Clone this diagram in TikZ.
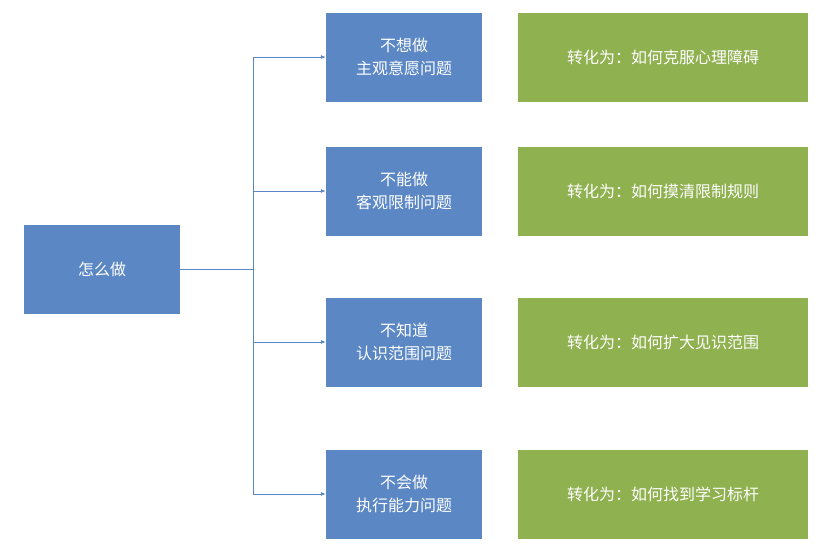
\documentclass[tikz,border=0pt]{standalone}
\usepackage{fontspec}
\setmainfont{Noto Sans CJK SC}
\usetikzlibrary{arrows.meta}
\definecolor{boxblue}{HTML}{5B87C5}
\definecolor{boxgreen}{HTML}{8FB150}
\definecolor{lineblue}{HTML}{5B87C5}
\tikzset{
    bluebox/.style={draw=none,fill=boxblue,text=white,minimum width=156pt,minimum height=89pt,
        align=center,inner sep=0pt,font=\fontsize{16}{23}\selectfont},
    greenbox/.style={draw=none,fill=boxgreen,text=white,minimum width=290pt,minimum height=89pt,
        align=center,inner sep=0pt,font=\fontsize{16}{23}\selectfont},
    link/.style={draw=lineblue,line width=0.8pt,-{Latex[length=5pt,width=4pt]}}
}
\begin{document}
\begin{tikzpicture}[x=1pt,y=-1pt]
    \useasboundingbox (0,0) rectangle (839,549);
    \node[bluebox] (How) at (102,269) {怎么做};
    \coordinate (Split) at (253,269);
    \foreach \y/\top/\bot/\goal [count=\n] in {
        57/不想做/主观意愿问题/如何克服心理障碍,
        191/不能做/客观限制问题/如何摸清限制规则,
        342/不知道/认识范围问题/如何扩大见识范围,
        494/不会做/执行能力问题/如何找到学习标杆}{%
        \node[bluebox] (Q\n) at (404,\y) {\top\\\bot};
        \node[greenbox] (G\n) at (663,\y) {转化为：\goal};
        \coordinate (B\n) at (253,\y);
        \draw[link] (B\n) -- (Q\n.west);
    }
    \draw[lineblue,line width=0.8pt] (How.east) -- (Split);
    \draw[lineblue,line width=0.8pt] (B1) -- (B4);
\end{tikzpicture}
\end{document}
